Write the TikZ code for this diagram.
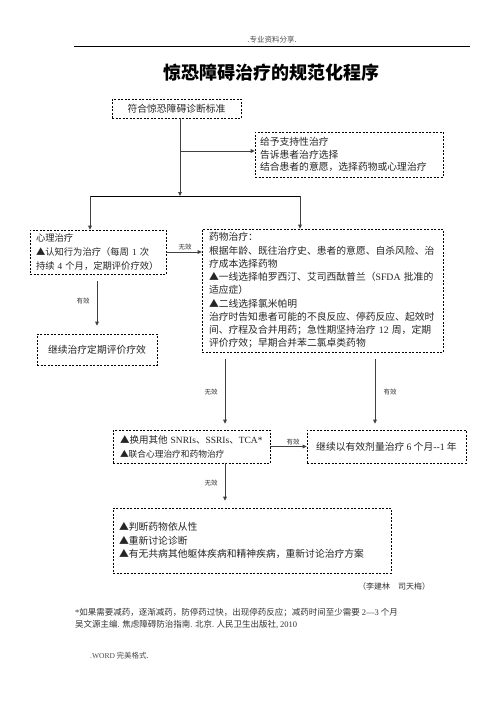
\documentclass[tikz,border=0pt]{standalone}
\usepackage{fontspec}
\setmainfont{Noto Sans CJK SC}
\newfontfamily\tm{Liberation Serif}
\usetikzlibrary{arrows.meta}
\begin{document}
\begin{tikzpicture}[x=1pt,y=-1pt,
  box/.style={draw=black, line width=0.7pt, dash pattern=on 2pt off 1.5pt,
    inner xsep=6pt, inner ysep=0pt, text=black!85,
    font=\fontsize{9.8}{13.25}\selectfont},
  arr/.style={draw=black!75, line width=0.9pt, -{Triangle[length=4pt,width=3.6pt]}},
  plain/.style={draw=black, line width=0.8pt},
  lab/.style={font=\fontsize{6.5}{7}\selectfont, text=black!80, inner sep=0pt},
  foot/.style={font=\fontsize{8.5}{10}\selectfont, text=black!80, inner sep=0pt, anchor=west},
  small/.style={font=\fontsize{7.5}{9}\selectfont, text=black!70, inner sep=0pt}
]
\useasboundingbox[fill=white] (0,0) rectangle (496,702);

% header
\node[small] (hd) at (272,40) {.专业资料分享.};
\coordinate (hl) at (74,46);
\coordinate (hr) at (470,46);
\draw[plain] (hl) -- (hr);
\node[font=\fontsize{18}{20}\selectfont\bfseries, inner sep=0pt] (title) at (271.5,73) {惊恐障碍治疗的规范化程序};

% boxes
\node[box, minimum width=129pt, minimum height=19pt, align=center] (b1) at (176.5,108.5) {符合惊恐障碍诊断标准};

\node[box, text width=178pt, inner xsep=5pt, minimum height=45pt, align=left,
  font=\fontsize{9.8}{12.5}\selectfont] (b2) at (349,154.5)
  {给予支持性治疗\\告诉患者治疗选择\\结合患者的意愿，选择药物或心理治疗};

\node[box, text width=124pt, inner xsep=6pt, minimum height=44pt, align=left,
  font=\fontsize{9.3}{14}\selectfont] (b3) at (98,252)
  {心理治疗\\\mbox{▲认知行为治疗（每周 {\tm 1} 次}\\\mbox{持续 {\tm 4} 个月，定期评价疗效）}};

\node[box, text width=227pt, inner xsep=7pt, minimum height=123pt, align=left] (b4) at (322.5,290.5)
  {药物治疗：\\
   \mbox{根据年龄、既往治疗史、患者的意愿、自杀风险、治}\\
   疗成本选择药物\\
   \mbox{▲一线选择帕罗西汀、艾司西酞普兰（{\tm SFDA} 批准的}\\
   适应症）\\
   ▲二线选择氯米帕明\\
   \mbox{治疗时告知患者可能的不良反应、停药反应、起效时}\\
   \mbox{间、疗程及合并用药；急性期坚持治疗 {\tm 12} 周，定期}\\
   评价疗效；早期合并苯二氯卓类药物};

\node[box, minimum width=120pt, minimum height=31pt, align=center] (b5) at (97,349.5) {继续治疗定期评价疗效};

\node[box, text width=143pt, inner xsep=7pt, minimum height=33pt, align=left,
  font=\fontsize{9.5}{14}\selectfont] (b6) at (191.5,446.5)
  {\mbox{▲换用其他 {\tm SNRIs}、{\tm SSRIs}、{\tm TCA*}}\\{\fontsize{8.7}{14}\selectfont ▲联合心理治疗和药物治疗}};

\node[box, minimum width=159pt, minimum height=33pt, align=center] (b7) at (386.5,446.5)
  {继续以有效剂量治疗 {\tm 6} 个月{\tm -{}-1} 年};

\node[box, text width=266pt, inner xsep=6pt, minimum height=65pt, align=left,
  font=\fontsize{9.8}{13.5}\selectfont] (b8) at (252,540.5)
  {▲判断药物依从性\\▲重新讨论诊断\\▲有无共病其他躯体疾病和精神疾病，重新讨论治疗方案\\[-3pt]};

% connector coordinates
\coordinate (jM) at (180,196);
\coordinate (jL) at (90,196);
\coordinate (jR) at (300,196);
\coordinate (br) at (180,151);
\coordinate (c0) at (97,300);
\coordinate (c1) at (225,400);
\coordinate (c2) at (375,400);

\draw[arr] (jM |- b1.south) -- (jM);
\draw[arr] (br) -- (br -| b2.west);
\draw[plain] (jL) -- (jR);
\draw[arr] (jL) -- (jL |- b3.north);
\draw[arr] (jR) -- (jR |- b4.north);
\draw[arr] (b3.east) -- (b3.east -| b4.west);
\draw[arr, shorten <=7pt, shorten >=8pt] (b3.south -| c0) -- (b5.north -| c0);
\draw[arr, shorten <=7pt, shorten >=6pt] (b4.south -| c1) -- (b6.north -| c1);
\draw[arr, shorten <=7pt, shorten >=6pt] (b4.south -| c2) -- (b7.north -| c2);
\draw[arr] (b6.east) -- (b6.east -| b7.west);
\draw[arr, shorten >=7pt] (b6.south -| c1) -- (b8.north -| c1);

% connector labels
\node[lab] (l1) at (185,247) {无效};
\node[lab] (l2) at (83,301) {有效};
\node[lab] (l3) at (211,392) {无效};
\node[lab] (l4) at (390,392) {有效};
\node[lab] (l5) at (293,442) {有效};
\node[lab] (l6) at (211,483) {无效};

% footer texts
\node[font=\fontsize{8}{9}\selectfont, text=black!80, inner sep=0pt, anchor=west] (au) at (358,586) {（李建林　司天梅）};
\node[foot] (f1) at (75,613) {{\tm *}如果需要减药，逐渐减药，防停药过快，出现停药反应；减药时间至少需要 {\tm 2—3} 个月};
\node[foot] (f2) at (75,625) {吴文源主编{\tm .} 焦虑障碍防治指南{\tm .} 北京{\tm .} 人民卫生出版社{\tm ,} {\tm 2010}};
\node[small, anchor=west] (wd) at (90,656) {{\tm .WORD} 完美格式.};
\end{tikzpicture}
\end{document}
